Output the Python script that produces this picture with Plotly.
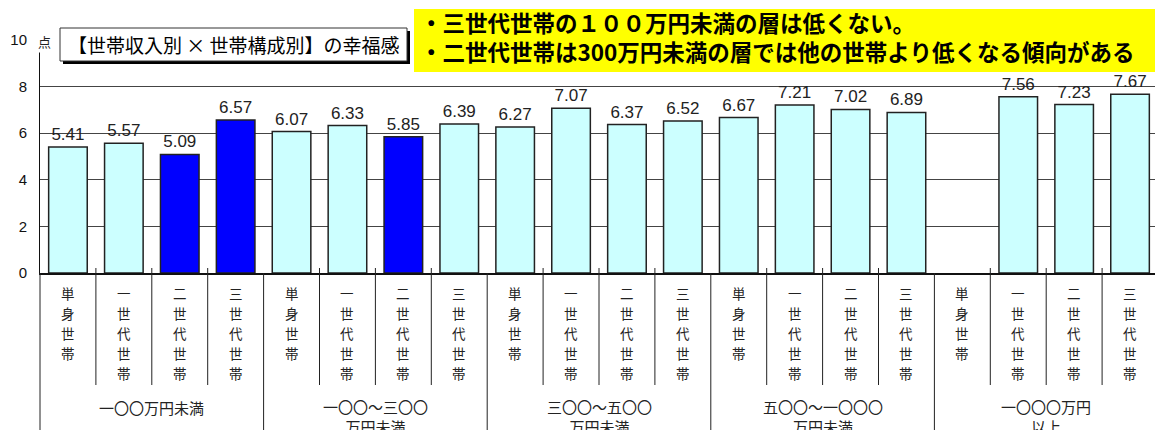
import plotly.graph_objects as go

# ---------------- data ----------------
income_groups = ["一〇〇万円未満", "一〇〇～三〇〇<br>万円未満", "三〇〇～五〇〇<br>万円未満",
                 "五〇〇～一〇〇〇<br>万円未満", "一〇〇〇万円<br>以上"]
household_types = ["単身世帯", "一世代世帯", "二世代世帯", "三世代世帯"]
values = [5.41, 5.57, 5.09, 6.57,
          6.07, 6.33, 5.85, 6.39,
          6.27, 7.07, 6.37, 6.52,
          6.67, 7.21, 7.02, 6.89,
          None, 7.56, 7.23, 7.67]
highlighted = [2, 3, 6]
y_ticks = [0, 2, 4, 6, 8, 10]
y_unit = "点"
title_text = "【世帯収入別 × 世帯構成別】の幸福感"
note_lines = ["・三世代世帯の１００万円未満の層は低くない。",
              "・二世代世帯は300万円未満の層では他の世帯より低くなる傾向がある"]

# ---------------- geometry (page pixels, page has an 8px body margin) ----------------
OFF = 8
W, H = 1163 - OFF, 430 - OFF
L, R, T, B = 40, 1158, 40, 273   # plot area in page pixels


def px(xp):
    return (xp - L) / (R - L)


def py(yp):
    return (B - yp) / (B - T)


n = len(values)
LIGHT = "#CCFFFF"
DARK = "#0000FF"
bar_colors = [DARK if i in highlighted else LIGHT for i in range(n)]
labels = [f"{v:.2f}" if v is not None else "" for v in values]

NUM_FONT = "Arial, Liberation Sans, Noto Sans CJK JP, sans-serif"
JP_FONT = "Noto Sans CJK JP, sans-serif"

fig = go.Figure()
fig.add_trace(go.Bar(
    x=list(range(n)), y=values,
    marker=dict(color=bar_colors, line=dict(color="#222222", width=1.5)),
    width=0.69,
    text=labels, textposition="outside", cliponaxis=False,
    textfont=dict(family=NUM_FONT, size=17, color="#222222"),
    hoverinfo="skip",
))

shapes = []
annotations = []

# separators below the axis
for k in range(n):
    xp = L + k * (R - L) / n
    if k % 4 == 0:
        shapes.append(dict(type="line", xref="paper", yref="paper",
                           x0=px(xp), x1=px(xp), y0=py(273), y1=py(432),
                           line=dict(color="#222222", width=1)))
    else:
        shapes.append(dict(type="line", xref="paper", yref="paper",
                           x0=px(xp), x1=px(xp), y0=py(268), y1=py(385),
                           line=dict(color="#222222", width=1)))

# vertical category labels
for i in range(n):
    name = household_types[i % 4]
    for j, ch in enumerate(name):
        annotations.append(dict(x=i, xref="x", y=py(293 + 20 * j), yref="paper",
                                text=ch, showarrow=False, xanchor="center", yanchor="middle",
                                font=dict(family=JP_FONT, size=13.5, color="#222222")))

# group labels
for g, name in enumerate(income_groups):
    two = "<br>" in name
    annotations.append(dict(x=4 * g + 1.5, xref="x", y=py(416 if two else 407), yref="paper",
                            text=name, showarrow=False, xanchor="center", yanchor="middle",
                            font=dict(family=JP_FONT, size=15, color="#222222")))

# unit label
annotations.append(dict(x=px(44), xref="paper", y=py(42), yref="paper", text=y_unit,
                        showarrow=False, xanchor="center", yanchor="middle", bgcolor="white",
                        font=dict(family=JP_FONT, size=13, color="#222222")))

# title box with shadow
shapes.append(dict(type="rect", xref="paper", yref="paper", layer="above",
                   x0=px(63), x1=px(410), y0=py(31), y1=py(64),
                   fillcolor="black", line=dict(width=0)))
shapes.append(dict(type="rect", xref="paper", yref="paper", layer="above",
                   x0=px(60), x1=px(407), y0=py(28), y1=py(61),
                   fillcolor="white", line=dict(color="#333333", width=1)))
annotations.append(dict(x=px(234), xref="paper", y=py(44.5), yref="paper", text=title_text,
                        showarrow=False, xanchor="center", yanchor="middle",
                        font=dict(family=JP_FONT, size=19, color="black")))

# yellow note box
shapes.append(dict(type="rect", xref="paper", yref="paper", layer="above",
                   x0=px(414), x1=px(1162), y0=py(9), y1=py(72),
                   fillcolor="#FFFF00", line=dict(width=0)))
annotations.append(dict(x=px(418), xref="paper", y=py(37), yref="paper",
                        text="<br>".join(f"<b>{s}</b>" for s in note_lines),
                        showarrow=False, xanchor="left", yanchor="middle", align="left",
                        font=dict(family=JP_FONT, size=22.5, color="black")))

fig.update_layout(
    width=W, height=H,
    margin=dict(l=L - OFF, r=W - (R - OFF), t=T - OFF, b=H - (B - OFF), pad=0, autoexpand=False),
    paper_bgcolor="white", plot_bgcolor="white",
    showlegend=False,
    shapes=shapes, annotations=annotations,
    xaxis=dict(range=[-0.5, n - 0.5], showticklabels=False, showgrid=False, zeroline=False,
               showline=True, linecolor="#111111", linewidth=1.5, ticks="", fixedrange=True,
               automargin=False),
    yaxis=dict(range=[0, 10], tickvals=y_ticks, showgrid=True, gridcolor="#444444", gridwidth=1,
               zeroline=False, showline=True, linecolor="#111111", linewidth=1, ticks="",
               ticklabelstandoff=9, automargin=False,
               tickfont=dict(family=NUM_FONT, size=15, color="#111111"), fixedrange=True),
)

fig.write_html("out.html")
